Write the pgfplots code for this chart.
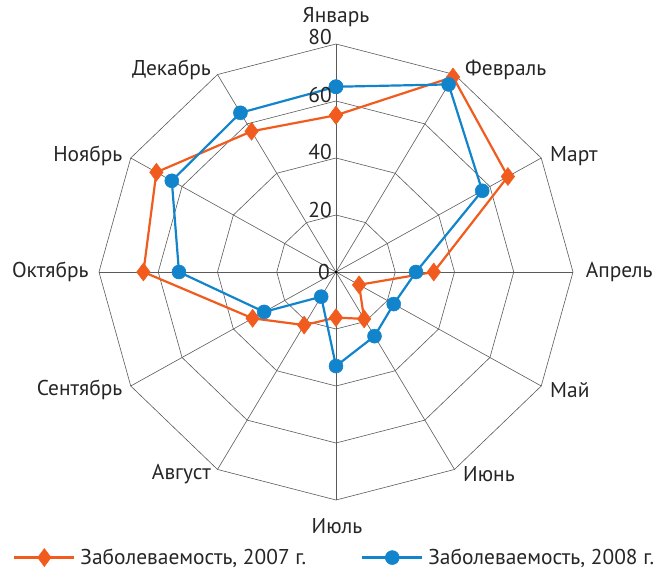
\documentclass[border=0pt]{standalone}
\usepackage{fontspec}
\setmainfont{PT Sans}
\usepackage{pgfplots}
\pgfplotsset{compat=1.18}
\definecolor{c07}{RGB}{241,92,30}
\definecolor{c08}{RGB}{18,132,204}
\definecolor{gridc}{RGB}{90,90,90}
\begin{document}
\begin{tikzpicture}[lbl/.style={font=\fontsize{21.5}{25}\selectfont, inner sep=0pt, text=black!85}]
\path[use as bounding box] (-336bp,-307bp) rectangle (327bp,272bp);
\begin{axis}[at={(0,0)}, anchor=center, scale only axis,
  width=474bp, height=456bp,
  xmin=-80, xmax=80, ymin=-80, ymax=80,
  hide axis, clip=false,
  legend columns=2,
  legend style={at={(axis cs:-109,-100.2)}, anchor=west, draw=none, fill=none,
    inner sep=0pt, font=\fontsize{21.5}{25}\selectfont, text=black!85,
    /tikz/every odd column/.append style={column sep=3bp},
    /tikz/every even column/.append style={column sep=53bp}},
  legend image code/.code={%
    \draw[#1, mark=none] (0bp,0bp) -- (60bp,0bp);
    \draw[#1, only marks] plot coordinates {(30bp,0bp)};},
]
% grid rings
\pgfplotsinvokeforeach{20,40,60,80}{
  \addplot[gridc, line width=0.6bp, no marks, data cs=polar, forget plot]
    coordinates {(90,#1)(60,#1)(30,#1)(0,#1)(-30,#1)(-60,#1)(-90,#1)(-120,#1)(-150,#1)(180,#1)(150,#1)(120,#1)(90,#1)};
}
% spokes
\pgfplotsinvokeforeach{90,60,30,0,-30,-60,-90,-120,-150,180,150,120}{
  \addplot[gridc, line width=0.6bp, no marks, data cs=polar, forget plot]
    coordinates {(#1,0)(#1,80)};
}
\addplot[c07, line width=2.2bp, data cs=polar, mark=diamond*, mark size=9bp,
  mark options={fill=c07, draw=c07, line width=0.5bp}]
  coordinates {(90,55)(60,79)(30,67)(0,33)(-30,9)(-60,19)(-90,16)(-120,21.5)(-150,32.5)(180,65)(150,70)(120,57)(90,55)};
\addlegendentry{Заболеваемость, 2007 г.}
\addplot[c08, line width=2.2bp, data cs=polar, mark=*, mark size=7bp,
  mark options={fill=c08, draw=c08, line width=0.5bp}]
  coordinates {(90,65)(60,76)(30,57)(0,27)(-30,22.5)(-60,26)(-90,33)(-120,10)(-150,28)(180,53)(150,64)(120,64.5)(90,65)};
\addlegendentry{Заболеваемость, 2008 г.}
\end{axis}
\fill[black] (0,0) circle (1.5bp);
% ring labels
\node[lbl, anchor=east] at (-4bp,235bp) {80};
\node[lbl, anchor=east] at (-4bp,177bp) {60};
\node[lbl, anchor=east] at (-4bp,120bp) {40};
\node[lbl, anchor=east] at (-4bp,62bp) {20};
\node[lbl, anchor=east] at (-6bp,0bp) {0};
% month labels
\node[lbl] at (0bp,255bp) {Январь};
\node[lbl, anchor=west] at (129bp,202bp) {Февраль};
\node[lbl, anchor=west] at (214bp,116bp) {Март};
\node[lbl, anchor=west] at (249.6bp,0bp) {Апрель};
\node[lbl, anchor=west] at (214bp,-118bp) {Май};
\node[lbl, anchor=west] at (127bp,-202bp) {Июнь};
\node[lbl] at (1bp,-254bp) {Июль};
\node[lbl, anchor=east] at (-125bp,-202bp) {Август};
\node[lbl, anchor=east] at (-213.4bp,-118bp) {Сентябрь};
\node[lbl, anchor=east] at (-247.2bp,0bp) {Октябрь};
\node[lbl, anchor=east] at (-213.4bp,116bp) {Ноябрь};
\node[lbl, anchor=east] at (-125bp,202bp) {Декабрь};
\end{tikzpicture}
\end{document}
